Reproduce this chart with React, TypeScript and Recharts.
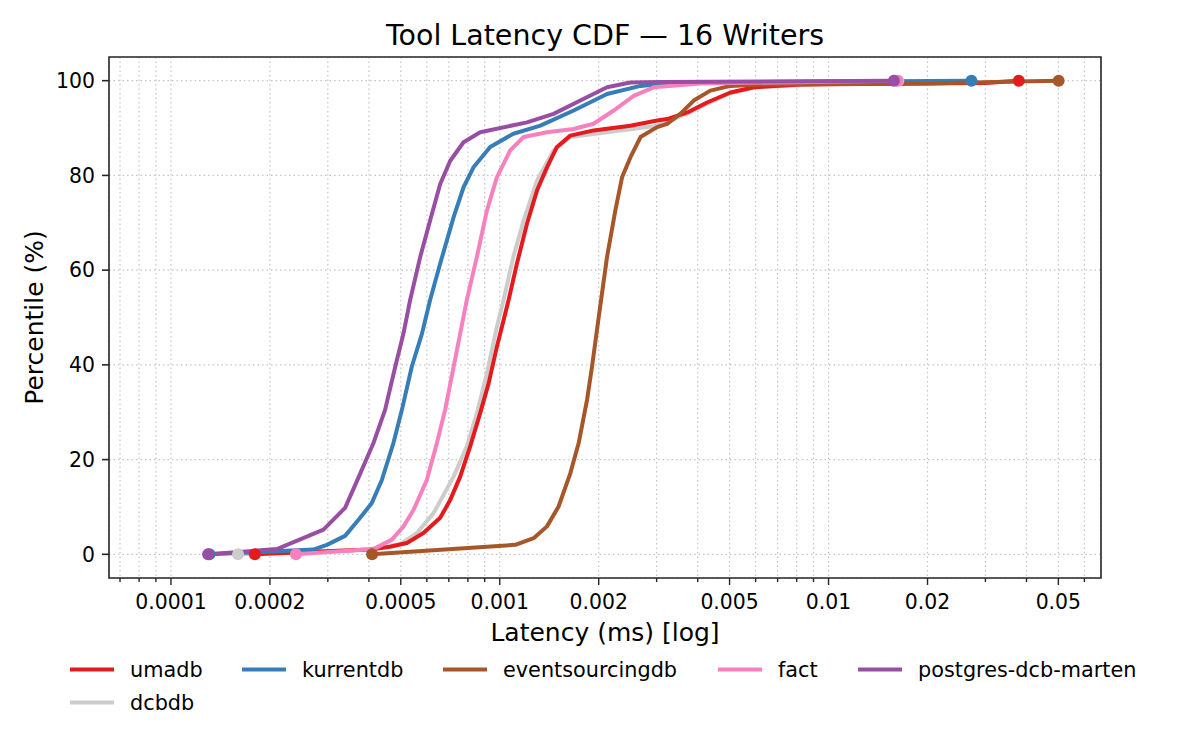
import React from 'react';
import { LineChart, Line, XAxis, YAxis, CartesianGrid, ReferenceArea } from 'recharts';

const FONT = '"DejaVu Sans", "Liberation Sans", sans-serif';

const chartTitle = 'Tool Latency CDF — 16 Writers';
const xLabel = 'Latency (ms) [log]';
const yLabel = 'Percentile (%)';

// series (legend order)
const seriesNames = ['umadb', 'kurrentdb', 'eventsourcingdb', 'fact', 'postgres-dcb-marten', 'dcbdb'];
const seriesColors: Record<string, string> = {
  umadb: '#e41a1c',
  kurrentdb: '#377eb8',
  eventsourcingdb: '#a65628',
  fact: '#f781bf',
  'postgres-dcb-marten': '#984ea3',
  dcbdb: '#cccccc',
};

// umadb
const umadbLatency = [0.00018, 0.000404, 0.000464, 0.000522, 0.000586, 0.000659, 0.000707, 0.000758, 0.000813, 0.000872, 0.000925, 0.00098, 0.001027, 0.001064, 0.001128, 0.00121, 0.001298, 0.001392, 0.001493, 0.001639, 0.00193, 0.002496, 0.00301, 0.00323, 0.00372, 0.00427, 0.00503, 0.00593, 0.00822, 0.03, 0.0379];
const umadbPercentile = [0, 1.0, 1.6, 2.4, 4.5, 7.7, 11.5, 16.4, 22.8, 29.8, 36.1, 43.8, 49.4, 53.7, 61.4, 69.8, 76.8, 81.7, 86.0, 88.4, 89.5, 90.5, 91.6, 91.9, 93.3, 95.4, 97.5, 98.6, 99.2, 99.5, 100];

// dcbdb
const dcbdbLatency = [0.00016, 0.0004, 0.0005, 0.00056, 0.000629, 0.000724, 0.000794, 0.000852, 0.000914, 0.00098, 0.001027, 0.0011, 0.001182, 0.001298, 0.001458, 0.001639, 0.00212, 0.00301, 0.0037, 0.0043, 0.005, 0.006, 0.009, 0.0163];
const dcbdbPercentile = [0, 1.0, 2.2, 4.5, 8.7, 16.4, 22.8, 29.8, 38.2, 48.0, 53.7, 62.8, 70.5, 78.9, 85.3, 88.1, 89.1, 90.5, 93.0, 95.2, 97.3, 98.6, 99.2, 100];

// kurrentdb
const kurrentdbLatency = [0.000131, 0.000271, 0.000298, 0.0003385, 0.000372, 0.000408, 0.000438, 0.000475, 0.000504, 0.00054, 0.00058, 0.000614, 0.000659, 0.000724, 0.000776, 0.000832, 0.000935, 0.0011, 0.001329, 0.001678, 0.00212, 0.00268, 0.00308, 0.005, 0.0272];
const kurrentdbPercentile = [0, 1.0, 2.0, 3.9, 7.3, 10.8, 15.7, 23.5, 30.5, 39.6, 46.6, 53.7, 61.4, 71.2, 77.5, 81.7, 86.0, 88.8, 90.5, 93.7, 97.2, 98.9, 99.3, 99.7, 100];

// eventsourcingdb
const eventsourcingdbLatency = [0.000409, 0.001115, 0.001268, 0.001392, 0.00151, 0.001639, 0.001738, 0.001843, 0.001908, 0.002, 0.00212, 0.002247, 0.002355, 0.002496, 0.00268, 0.00301, 0.00323, 0.00354, 0.00389, 0.00437, 0.00503, 0.0062, 0.02, 0.0501];
const eventsourcingdbPercentile = [0, 2.0, 3.4, 5.9, 10.1, 17.1, 23.5, 32.6, 39.6, 50.1, 62.8, 72.6, 79.6, 83.8, 88.1, 90.2, 90.9, 93.0, 95.8, 97.9, 98.9, 99.2, 99.4, 100];

// fact
const factLatency = [0.00024, 0.000413, 0.00047, 0.00051, 0.000547, 0.0006, 0.000644, 0.000682, 0.000724, 0.000758, 0.000794, 0.000852, 0.000914, 0.00098, 0.001076, 0.001182, 0.001392, 0.001678, 0.00193, 0.00222, 0.002555, 0.00294, 0.00408, 0.0162];
const factPercentile = [0, 1.1, 3.1, 5.9, 9.4, 15.7, 23.5, 30.5, 39.6, 46.6, 53.7, 62.8, 72.6, 79.6, 85.3, 88.1, 89.1, 89.8, 90.9, 93.7, 96.8, 98.6, 99.4, 100];

// postgres-dcb-marten
const martenLatency = [0.0001297, 0.00021, 0.000291, 0.0003385, 0.0003675, 0.000413, 0.000448, 0.000481, 0.0005095, 0.000534, 0.000573, 0.000614, 0.000659, 0.000707, 0.000776, 0.000872, 0.00121, 0.001458, 0.001758, 0.00212, 0.002495, 0.00308, 0.0158];
const martenPercentile = [0, 1.1, 5.2, 9.8, 15.4, 23.5, 30.5, 39.6, 46.6, 53.7, 62.8, 70.5, 78.2, 83.1, 87.0, 89.1, 91.2, 93.0, 95.8, 98.6, 99.6, 99.7, 100];

// axes
const xDomain = [6.48e-5, 0.0674];
const yDomain = [-5, 105];
const xMajorTicks = [0.0001, 0.0002, 0.0005, 0.001, 0.002, 0.005, 0.01, 0.02, 0.05];
const xMajorLabels = ['0.0001', '0.0002', '0.0005', '0.001', '0.002', '0.005', '0.01', '0.02', '0.05'];
const xMinorTicks = [0.00007, 0.00008, 0.00009, 0.0003, 0.0004, 0.0006, 0.0007, 0.0008, 0.0009, 0.003, 0.004, 0.006, 0.007, 0.008, 0.009, 0.03, 0.04, 0.06];
const yTicks = [0, 20, 40, 60, 80, 100];

const toPoints = (lat: number[], pct: number[]) => lat.map((x, i) => ({ x, p: pct[i] }));

const seriesData: Record<string, { x: number; p: number }[]> = {
  umadb: toPoints(umadbLatency, umadbPercentile),
  dcbdb: toPoints(dcbdbLatency, dcbdbPercentile),
  kurrentdb: toPoints(kurrentdbLatency, kurrentdbPercentile),
  eventsourcingdb: toPoints(eventsourcingdbLatency, eventsourcingdbPercentile),
  fact: toPoints(factLatency, factPercentile),
  'postgres-dcb-marten': toPoints(martenLatency, martenPercentile),
};

// drawing order (later = on top)
const drawOrder = ['dcbdb', 'umadb', 'kurrentdb', 'eventsourcingdb', 'fact', 'postgres-dcb-marten'];

const allXTicks = [...xMajorTicks, ...xMinorTicks].sort((a, b) => a - b);
const majorLabelMap = new Map<number, string>(xMajorTicks.map((v, i) => [v, xMajorLabels[i]]));

const AXIS_COLOR = '#262626';
const LINE_W = 4;

const XTick = (props: any) => {
  const { x, y, payload } = props;
  const label = majorLabelMap.get(payload.value);
  const len = label !== undefined ? 7 : 4;
  return (
    <g>
      <line x1={x} x2={x} y1={y} y2={y + len} stroke={AXIS_COLOR} strokeWidth={1.4} />
      {label !== undefined && (
        <text x={x} y={y + 31} textAnchor="middle" fontFamily={FONT} fontSize={20.4} fill="#000">
          {label}
        </text>
      )}
    </g>
  );
};

const YTick = (props: any) => {
  const { x, y, payload } = props;
  return (
    <g>
      <line x1={x - 7} x2={x} y1={y} y2={y} stroke={AXIS_COLOR} strokeWidth={1.6} />
      <text x={x - 14} y={y + 7.3} textAnchor="end" fontFamily={FONT} fontSize={20.4} fill="#000">
        {payload.value}
      </text>
    </g>
  );
};

const makeDot = (color: string, n: number) => (props: any) => {
  const { cx, cy, index } = props;
  if (index !== 0 && index !== n - 1) return <g key={`e-${index}`} />;
  return <circle key={`d-${index}`} cx={cx} cy={cy} r={6} fill={color} stroke="none" />;
};

const legendCols = [70, 242, 443, 718, 858];

export default function App() {
  return (
    <div style={{ position: 'absolute', left: 0, top: 0, width: 1200, height: 750, background: '#fff' }}>
      <LineChart width={1200} height={750} margin={{ top: 57, right: 99, bottom: 132, left: 49 }}>
        <CartesianGrid stroke="#c4c4c4" strokeDasharray="1.5 3" strokeWidth={1.2} />
        <XAxis
          type="number"
          dataKey="x"
          scale="log"
          domain={xDomain}
          allowDataOverflow
          ticks={allXTicks}
          interval={0}
          tick={(p: any) => <XTick {...p} />}
          tickLine={false}
          axisLine={false}
          tickSize={0}
          tickMargin={0}
          height={40}
        />
        <YAxis
          type="number"
          domain={yDomain}
          allowDataOverflow
          ticks={yTicks}
          interval={0}
          tick={(p: any) => <YTick {...p} />}
          tickLine={false}
          axisLine={false}
          tickSize={0}
          tickMargin={0}
          width={60}
        />
        {drawOrder.map((name) => (
          <Line
            key={name}
            data={seriesData[name]}
            dataKey="p"
            type="linear"
            stroke={seriesColors[name]}
            strokeWidth={LINE_W}
            strokeLinejoin="round"
            strokeLinecap="round"
            dot={makeDot(seriesColors[name], seriesData[name].length)}
            activeDot={false}
            isAnimationActive={false}
          />
        ))}
        <ReferenceArea
          x1={xDomain[0]}
          x2={xDomain[1]}
          y1={yDomain[0]}
          y2={yDomain[1]}
          fill="none"
          fillOpacity={0}
          stroke={AXIS_COLOR}
          strokeWidth={1.6}
          ifOverflow="visible"
        />
      </LineChart>
      <svg width={1200} height={750} style={{ position: 'absolute', left: 0, top: 0, pointerEvents: 'none' }}>
        <text x={605} y={45} textAnchor="middle" fontFamily={FONT} fontSize={28.5} fill="#000">
          {chartTitle}
        </text>
        <text x={605} y={641} textAnchor="middle" fontFamily={FONT} fontSize={25} fill="#000">
          {xLabel}
        </text>
        <text
          x={42.5}
          y={317.5}
          textAnchor="middle"
          fontFamily={FONT}
          fontSize={25}
          fill="#000"
          transform="rotate(-90 42.5 317.5)"
        >
          {yLabel}
        </text>
        {seriesNames.map((name, i) => {
          const col = i < 5 ? i : 0;
          const row = i < 5 ? 0 : 1;
          const lx = legendCols[col];
          const ly = 669.5 + row * 33;
          return (
            <g key={name}>
              <line x1={lx} x2={lx + 44} y1={ly} y2={ly} stroke={seriesColors[name]} strokeWidth={LINE_W} />
              <text x={lx + 60} y={ly + 7.3} fontFamily={FONT} fontSize={20.8} fill="#000">
                {name}
              </text>
            </g>
          );
        })}
      </svg>
    </div>
  );
}
